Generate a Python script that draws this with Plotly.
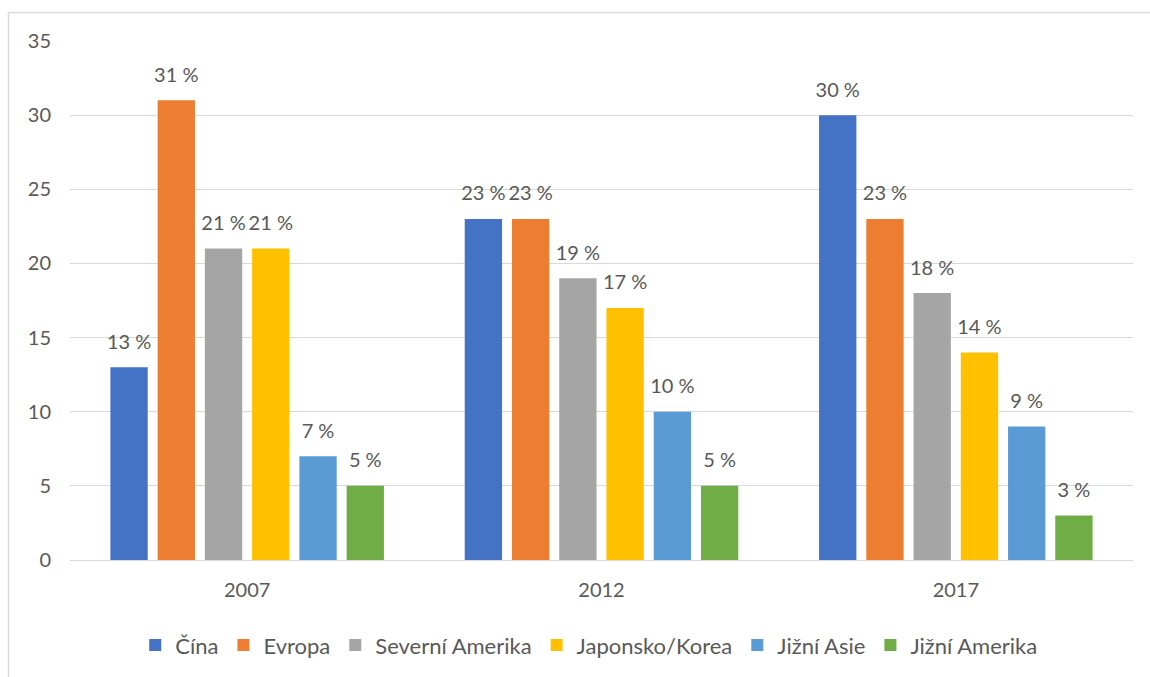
import plotly.graph_objects as go

# Share of production by region (%), grouped by year
years = ["2007", "2012", "2017"]
regions = ["Čína", "Evropa", "Severní Amerika", "Japonsko/Korea", "Jižní Asie", "Jižní Amerika"]
cina = [13, 23, 30]
evropa = [31, 23, 23]
severni_amerika = [21, 19, 18]
japonsko_korea = [21, 17, 14]
jizni_asie = [7, 10, 9]
jizni_amerika = [5, 5, 3]
y_ticks = [0, 5, 10, 15, 20, 25, 30, 35]

series = [cina, evropa, severni_amerika, japonsko_korea, jizni_asie, jizni_amerika]
colors = ["#4472C4", "#ED7D31", "#A5A5A5", "#FFC000", "#5B9BD5", "#70AD47"]

FONT = "Lato"
TEXT_COLOR = "#595959"
BARGAP = 0.2

fig = go.Figure()
for name, vals, col in zip(regions, series, colors):
    fig.add_trace(go.Bar(
        x=years, y=vals, name=name,
        marker=dict(color=col, line=dict(width=0)),
        offsetgroup=name, alignmentgroup="regions",
        hoverinfo="skip",
    ))

# Value labels: invisible grouped markers carry the text so it sits a little above each bar
for name, vals in zip(regions, series):
    fig.add_trace(go.Scatter(
        x=years, y=vals, mode="markers+text", showlegend=False,
        text=[f"{v} %" for v in vals], textposition="top center",
        textfont=dict(family=FONT, size=20, color=TEXT_COLOR),
        marker=dict(size=20, opacity=0), cliponaxis=False,
        offsetgroup=name, alignmentgroup="regions",
        hoverinfo="skip",
    ))

fig.update_layout(
    width=1150, height=677,
    margin=dict(l=70, r=17, t=41, b=116),
    paper_bgcolor="white", plot_bgcolor="white",
    barmode="group", bargap=BARGAP, bargroupgap=0.21,
    scattermode="group", scattergap=BARGAP,
    font=dict(family=FONT, size=20, color=TEXT_COLOR),
    showlegend=True,
    legend=dict(
        orientation="h", x=0.488, xanchor="center", y=-0.162, yanchor="middle",
        font=dict(family=FONT, size=22, color=TEXT_COLOR),
        itemwidth=30, traceorder="normal",
    ),
)
fig.update_yaxes(
    range=[0, 35], tickvals=y_ticks, showgrid=True, gridcolor="#D9D9D9", gridwidth=1,
    zeroline=True, zerolinecolor="#D9D9D9", zerolinewidth=1,
    showline=False, ticks="", ticklabelstandoff=18,
    tickfont=dict(family=FONT, size=20, color=TEXT_COLOR),
)
fig.update_xaxes(
    showgrid=False, showline=False, ticks="", ticklabelstandoff=16,
    tickfont=dict(family=FONT, size=20, color=TEXT_COLOR),
)

# Outer chart frame, running past the right and bottom edges
fig.add_shape(
    type="rect", xref="paper", yref="paper",
    x0=(8.5 - 70) / 1063, x1=1.1, y0=-0.4, y1=1 + (41 - 12.5) / 520,
    line=dict(color="#D9D9D9", width=1.5), fillcolor="rgba(0,0,0,0)", layer="below",
)

fig.write_html("out.html")
